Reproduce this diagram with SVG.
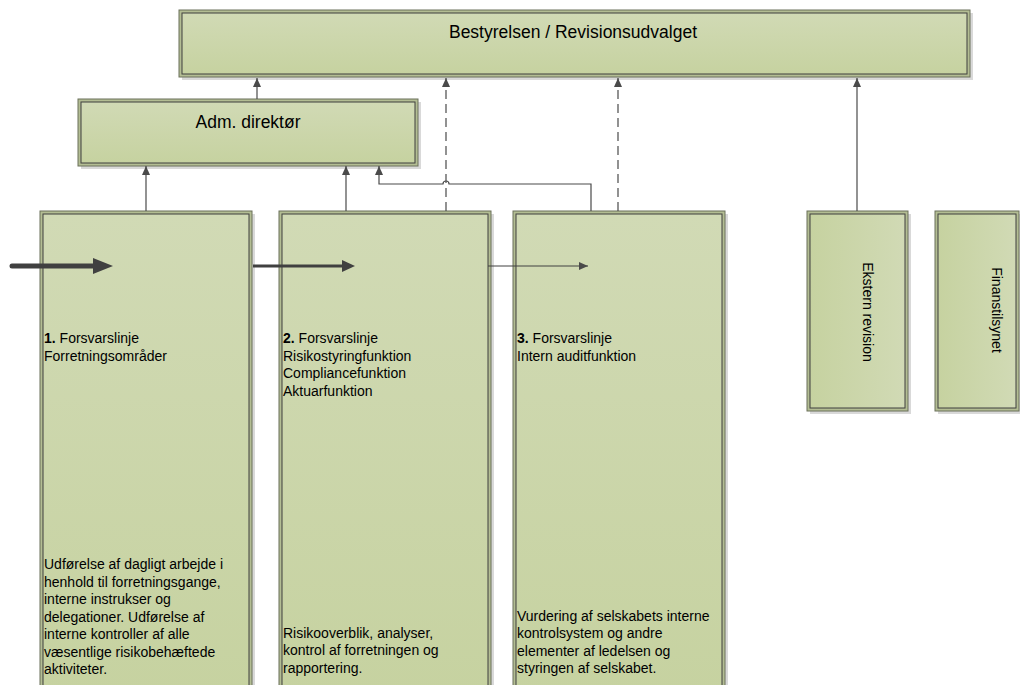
<svg xmlns="http://www.w3.org/2000/svg" width="1020" height="685" viewBox="0 0 1020 685">
<style>
.sh{fill:#d9d9d9}
.ob{fill:#b3bd93;stroke:#6b715a;stroke-width:1}
.ibv{fill:url(#gv);stroke:#3f3f3f;stroke-width:1}
.ibh{fill:url(#gh);stroke:#3f3f3f;stroke-width:1}
.t{font-family:"Liberation Sans",Arial,sans-serif;fill:#000}
.c{fill:none;stroke:#4a4a4a;stroke-width:1.2}
.d{stroke-dasharray:9 5}
</style>
<defs>
<linearGradient id="gv" x1="0" y1="0" x2="0" y2="1">
<stop offset="0" stop-color="#d1dab5"/>
<stop offset="1" stop-color="#c6d2a0"/>
</linearGradient>
<linearGradient id="gh" x1="0" y1="0" x2="1" y2="0">
<stop offset="0" stop-color="#c6d2a0"/>
<stop offset="1" stop-color="#d1dab5"/>
</linearGradient>
<marker id="a1" markerUnits="userSpaceOnUse" markerWidth="10" markerHeight="10" refX="9" refY="4" orient="auto">
<path d="M0,0 L9,4 L0,8 z" fill="#4a4a4a"/>
</marker>
<marker id="a2" markerUnits="userSpaceOnUse" markerWidth="14" markerHeight="13" refX="0" refY="6" orient="auto">
<path d="M0,0 L13,6 L0,12 z" fill="#404040"/>
</marker>
<marker id="a3" markerUnits="userSpaceOnUse" markerWidth="22" markerHeight="18" refX="0" refY="8" orient="auto">
<path d="M0,0 L20,8 L0,16 z" fill="#404040"/>
</marker>
</defs>

<g id="bestyrelsen">
<rect class="sh" x="182" y="13" width="791" height="67"/>
<rect class="ob" x="179" y="10" width="791" height="67"/>
<rect class="ibv" x="182" y="13" width="785" height="61"/>
<text class="t" x="573" y="38" font-size="17.5" text-anchor="middle">Bestyrelsen / Revisionsudvalget</text>
</g>

<g id="adm">
<rect class="sh" x="81" y="102" width="340" height="67"/>
<rect class="ob" x="78" y="99" width="340" height="67"/>
<rect class="ibv" x="81" y="102" width="334" height="61"/>
<text class="t" x="248" y="128" font-size="17.5" text-anchor="middle">Adm. direktør</text>
</g>

<g id="linje1">
<rect class="sh" x="43" y="214" width="212" height="490"/>
<rect class="ob" x="40" y="211" width="212" height="490"/>
<rect class="ibv" x="43" y="214" width="206" height="484"/>
<text class="t" font-size="14"><tspan x="44" y="343"><tspan font-weight="bold">1.</tspan> Forsvarslinje</tspan><tspan x="44" y="361">Forretningsområder</tspan></text>
<text class="t" font-size="14"><tspan x="44" y="569">Udførelse af dagligt arbejde i</tspan><tspan x="44" y="587">henhold til forretningsgange,</tspan><tspan x="44" y="604">interne instrukser og</tspan><tspan x="44" y="622">delegationer. Udførelse af</tspan><tspan x="44" y="639">interne kontroller af alle</tspan><tspan x="44" y="657">væsentlige risikobehæftede</tspan><tspan x="44" y="674">aktiviteter.</tspan></text>
</g>

<g id="linje2">
<rect class="sh" x="282" y="214" width="212" height="490"/>
<rect class="ob" x="279" y="211" width="212" height="490"/>
<rect class="ibv" x="282" y="214" width="206" height="484"/>
<text class="t" font-size="14"><tspan x="283" y="343"><tspan font-weight="bold">2.</tspan> Forsvarslinje</tspan><tspan x="283" y="361">Risikostyringfunktion</tspan><tspan x="283" y="378">Compliancefunktion</tspan><tspan x="283" y="396">Aktuarfunktion</tspan></text>
<text class="t" font-size="14"><tspan x="283" y="638">Risikooverblik, analyser,</tspan><tspan x="283" y="655">kontrol af forretningen og</tspan><tspan x="283" y="673">rapportering.</tspan></text>
</g>

<g id="linje3">
<rect class="sh" x="516" y="214" width="212" height="490"/>
<rect class="ob" x="513" y="211" width="212" height="490"/>
<rect class="ibv" x="516" y="214" width="206" height="484"/>
<text class="t" font-size="14"><tspan x="517" y="343"><tspan font-weight="bold">3.</tspan> Forsvarslinje</tspan><tspan x="517" y="361">Intern auditfunktion</tspan></text>
<text class="t" font-size="14"><tspan x="517" y="621">Vurdering af selskabets interne</tspan><tspan x="517" y="638">kontrolsystem og andre</tspan><tspan x="517" y="656">elementer af ledelsen og</tspan><tspan x="517" y="673">styringen af selskabet.</tspan></text>
</g>

<g id="ekstern">
<rect class="sh" x="810" y="214" width="101" height="200"/>
<rect class="ob" x="807" y="211" width="101" height="200"/>
<rect class="ibh" x="810" y="214" width="95" height="194"/>
<text class="t" font-size="14" text-anchor="middle" transform="translate(863,312) rotate(90)" x="0" y="0">Ekstern revision</text>
</g>

<g id="finanstilsynet">
<rect class="sh" x="938" y="214" width="84" height="200"/>
<rect class="ob" x="935" y="211" width="84" height="200"/>
<rect class="ibh" x="938" y="214" width="78" height="194"/>
<text class="t" font-size="14" text-anchor="middle" transform="translate(992,310) rotate(90)" x="0" y="0">Finanstilsynet</text>
</g>

<g id="connectors">
<path class="c" d="M257,99 V78" marker-end="url(#a1)"/>
<path class="c" d="M146,211 V166" marker-end="url(#a1)"/>
<path class="c" d="M346,211 V166" marker-end="url(#a1)"/>
<path class="c" d="M591,211 V184 H449 A3,3 0 0 0 443,184 H379 V166" marker-end="url(#a1)"/>
<path class="c d" d="M446,211 V78" marker-end="url(#a1)"/>
<path class="c d" d="M618,211 V78" marker-end="url(#a1)"/>
<path class="c" d="M857,211 V78" marker-end="url(#a1)"/>
<path d="M12,266 H93" stroke="#404040" stroke-width="5" stroke-linecap="round" fill="none" marker-end="url(#a3)"/>
<path d="M253,266 H342" stroke="#404040" stroke-width="3" fill="none" marker-end="url(#a2)"/>
<path d="M488,266 H588" stroke="#404040" stroke-width="1" fill="none" marker-end="url(#a1)"/>
</g>
</svg>
